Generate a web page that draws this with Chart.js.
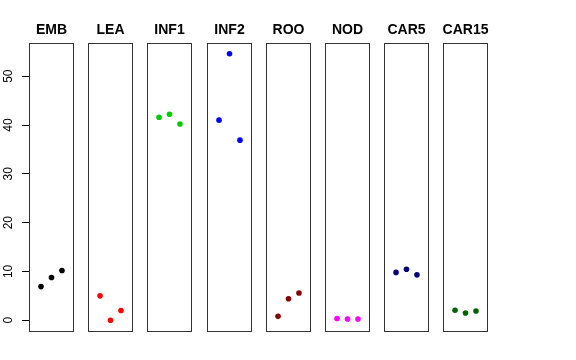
<!DOCTYPE html>
<html>
<head>
<meta charset="utf-8">
<script src="https://cdn.jsdelivr.net/npm/chart.js@4/dist/chart.umd.min.js"></script>
<style>
    html, body { margin: 0; padding: 0; background: #fff; }
    #wrap { position: relative; width: 576px; height: 360px; overflow: hidden; }
    #wrap canvas { position: absolute; top: 0; }
</style>
</head>
<body>
<div id="wrap"></div>
<script>
// Panel names and the three replicate values per panel
const panelNames = ["EMB", "LEA", "INF1", "INF2", "ROO", "NOD", "CAR5", "CAR15"];
const embValues = [6.9, 8.75, 10.2];
const leaValues = [5.0, 0.0, 2.0];
const inf1Values = [41.6, 42.2, 40.2];
const inf2Values = [41.0, 54.6, 36.9];
const rooValues = [0.8, 4.4, 5.6];
const nodValues = [0.35, 0.25, 0.25];
const car5Values = [9.8, 10.45, 9.3];
const car15Values = [2.05, 1.5, 1.9];
const panelValues = [embValues, leaValues, inf1Values, inf2Values, rooValues, nodValues, car5Values, car15Values];
const panelColors = ["#000000", "#FF0000", "#00CD00", "#0000FF", "#8B0000", "#FF00FF", "#000080", "#006400"];
const xPositions = [1, 2, 3];
const yTicks = [0, 10, 20, 30, 40, 50];

const FONT = "'Liberation Sans', Arial, Helvetica, sans-serif";
const Y_MIN = -2.2, Y_MAX = 56.8;
const X_MIN = -0.15, X_MAX = 4.15;
const AXIS_W = 29, PANEL_W = 45, PANEL_STEP = 59.2, PAD = 2;

// box round each panel plus its bold name above it
const panelBox = {
    id: "panelBox",
    afterDraw(chart, args, opts) {
        const { ctx, chartArea: a } = chart;
        ctx.save();
        ctx.strokeStyle = "#333";
        ctx.lineWidth = 1;
        ctx.strokeRect(Math.round(a.left) + 0.5, Math.round(a.top) + 0.5,
                       Math.round(a.right - a.left) - 1, Math.round(a.bottom - a.top));
        ctx.fillStyle = "#000";
        ctx.font = "bold 14px " + FONT;
        ctx.textAlign = "center";
        ctx.textBaseline = "alphabetic";
        ctx.fillText(opts.text, (a.left + a.right) / 2, 34);
        ctx.restore();
    }
};

const wrap = document.getElementById("wrap");

panelNames.forEach((name, i) => {
    const first = i === 0;
    const canvas = document.createElement("canvas");
    const panelLeft = Math.round(AXIS_W + i * PANEL_STEP);
    const left = first ? 0 : panelLeft - PAD;
    const width = first ? AXIS_W + PANEL_W + PAD : PANEL_W + 2 * PAD;
    canvas.width = width;
    canvas.height = 360;
    canvas.style.left = left + "px";
    canvas.style.width = width + "px";
    canvas.style.height = "360px";
    wrap.appendChild(canvas);

    new Chart(canvas.getContext("2d"), {
        type: "scatter",
        data: {
            datasets: [{
                data: xPositions.map((x, j) => ({ x: x, y: panelValues[i][j] })),
                pointRadius: 2.8,
                pointHoverRadius: 2.8,
                pointBackgroundColor: panelColors[i],
                pointBorderWidth: 0,
                borderWidth: 0
            }]
        },
        options: {
            responsive: false,
            animation: false,
            events: [],
            layout: {
                autoPadding: false,
                padding: { left: first ? 0 : PAD, right: PAD, top: 43, bottom: 29 }
            },
            plugins: {
                legend: { display: false },
                tooltip: { enabled: false },
                title: { display: false },
                panelBox: { text: name }
            },
            scales: {
                x: { type: "linear", min: X_MIN, max: X_MAX, display: false },
                y: {
                    min: Y_MIN,
                    max: Y_MAX,
                    display: first,
                    position: "left",
                    afterBuildTicks: s => { s.ticks = yTicks.map(v => ({ value: v })); },
                    afterFit: s => { if (first) s.width = AXIS_W; },
                    grid: { drawOnChartArea: false, tickLength: 7, color: "#000" },
                    border: { display: true, color: "#000" },
                    ticks: {
                        minRotation: 90,
                        maxRotation: 90,
                        crossAlign: "center",
                        padding: 7,
                        color: "#000",
                        font: { family: FONT, size: 12 }
                    }
                }
            }
        },
        plugins: [panelBox]
    });
});
</script>
</body>
</html>
